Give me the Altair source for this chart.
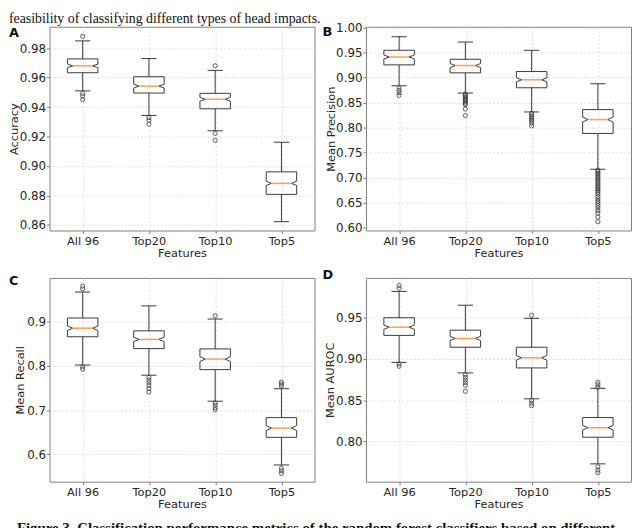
import altair as alt
import pandas as pd

CATS = ["All 96", "Top20", "Top10", "Top5"]
POS = [1, 2, 3, 4]

# Panel A: Accuracy
acc_q1 = [0.9633, 0.9495, 0.9388, 0.8807]
acc_med = [0.9680, 0.9542, 0.9453, 0.8882]
acc_q3 = [0.9727, 0.9606, 0.9493, 0.8960]
acc_lo = [0.9510, 0.9343, 0.9239, 0.8622]
acc_hi = [0.9849, 0.9729, 0.9649, 0.9161]
acc_notch = [0.0012, 0.0013, 0.0013, 0.0015]
acc_out_pos = [1, 1, 1, 1, 2, 2, 2, 3, 3, 3]
acc_out_val = [0.9880, 0.9493, 0.9475, 0.9450, 0.9328, 0.9310, 0.9283, 0.9680, 0.9221, 0.9174]

# Panel B: Mean Precision
prec_q1 = [0.9253, 0.9094, 0.8796, 0.7884]
prec_med = [0.9411, 0.9240, 0.8955, 0.8161]
prec_q3 = [0.9544, 0.9365, 0.9120, 0.8360]
prec_lo = [0.8836, 0.8690, 0.8313, 0.7169]
prec_hi = [0.9815, 0.9709, 0.9544, 0.8876]
prec_notch = [0.0040, 0.0040, 0.0040, 0.0050]
prec_out_pos = ([1] * 4 + [2] * 11 + [3] * 8 + [4] * 26)
prec_out_val = [0.8790, 0.8743, 0.8697, 0.8644,
                0.8671, 0.8644, 0.8618, 0.8591, 0.8565, 0.8538, 0.8512, 0.8485, 0.8459, 0.8373, 0.8241,
                0.8287, 0.8254, 0.8221, 0.8188, 0.8155, 0.8122, 0.8089, 0.8036,
                0.7150, 0.7124, 0.7091, 0.7065, 0.7032, 0.7005, 0.6972, 0.6939, 0.6906, 0.6873,
                0.6840, 0.6807, 0.6774, 0.6741, 0.6708, 0.6675, 0.6622, 0.6576, 0.6530, 0.6490,
                0.6444, 0.6398, 0.6345, 0.6292, 0.6213, 0.6120]

# Panel C: Mean Recall
rec_q1 = [0.8659, 0.8391, 0.7916, 0.6387]
rec_med = [0.8852, 0.8599, 0.8154, 0.6595]
rec_q3 = [0.9082, 0.8792, 0.8384, 0.6832]
rec_lo = [0.8020, 0.7790, 0.7203, 0.5763]
rec_hi = [0.9668, 0.9356, 0.9059, 0.7486]
rec_notch = [0.0050, 0.0050, 0.0055, 0.0055]
rec_out_pos = [1, 1, 1, 1, 2, 2, 2, 2, 2, 2, 3, 3, 3, 3, 3, 4, 4, 4, 4, 4, 4]
rec_out_val = [0.9802, 0.9742, 0.7976, 0.7924,
               0.7738, 0.7679, 0.7619, 0.7560, 0.7486, 0.7411,
               0.9134, 0.7166, 0.7114, 0.7055, 0.7010,
               0.7634, 0.7589, 0.7545, 0.5689, 0.5630, 0.5570]

# Panel D: Mean AUROC
auc_q1 = [0.9282, 0.9139, 0.8889, 0.8052]
auc_med = [0.9381, 0.9246, 0.9012, 0.8167]
auc_q3 = [0.9496, 0.9345, 0.9139, 0.8290]
auc_lo = [0.8956, 0.8829, 0.8516, 0.7730]
auc_hi = [0.9813, 0.9647, 0.9488, 0.8643]
auc_notch = [0.0025, 0.0025, 0.0028, 0.0028]
auc_out_pos = [1, 1, 1, 1, 2, 2, 2, 2, 2, 2, 3, 3, 3, 3, 4, 4, 4, 4, 4, 4]
auc_out_val = [0.9885, 0.9853, 0.8937, 0.8909,
               0.8806, 0.8774, 0.8742, 0.8710, 0.8679, 0.8607,
               0.9524, 0.8496, 0.8464, 0.8433,
               0.8714, 0.8686, 0.8655, 0.7694, 0.7655, 0.7623]

TOP_TEXT = "feasibility of classifying different types of head impacts."
BOTTOM_TEXT = ("Figure 3. Classification performance metrics of the random forest "
               "classifiers based on different")

W, H = 268, 206
BOX_HALF = 0.23
WAIST = 0.15
CAP_HALF = 0.115
LINE = "#3a3a3a"
MED = "#fca55d"
FONT = "DejaVu Sans"

label_expr = "['All 96','Top20','Top10','Top5'][datum.value - 1]"


def panel(q1, med, q3, lo, hi, notch, out_pos, out_val, domain, ticks, fmt,
          ytitle, title_x, annotations):
    poly, whisk, caps, meds = [], [], [], []
    for i, p in enumerate(POS):
        verts = [(-BOX_HALF, q1[i]), (BOX_HALF, q1[i]),
                 (BOX_HALF, med[i] - notch[i]), (WAIST, med[i]),
                 (BOX_HALF, med[i] + notch[i]), (BOX_HALF, q3[i]),
                 (-BOX_HALF, q3[i]), (-BOX_HALF, med[i] + notch[i]),
                 (-WAIST, med[i]), (-BOX_HALF, med[i] - notch[i]),
                 (-BOX_HALF, q1[i])]
        for k, (dx, v) in enumerate(verts):
            poly.append({"box": CATS[i], "k": k, "x": p + dx, "y": v})
        whisk.append({"x": p, "y": q1[i], "y2": lo[i]})
        whisk.append({"x": p, "y": q3[i], "y2": hi[i]})
        caps.append({"x": p - CAP_HALF, "x2": p + CAP_HALF, "y": lo[i]})
        caps.append({"x": p - CAP_HALF, "x2": p + CAP_HALF, "y": hi[i]})
        meds.append({"x": p - WAIST, "x2": p + WAIST, "y": med[i]})
    outs = pd.DataFrame({"x": out_pos, "y": out_val})

    xs = alt.Scale(domain=[0.5, 4.5], nice=False, zero=False)
    ys = alt.Scale(domain=domain, nice=False, zero=False)
    xaxis = alt.Axis(values=POS, labelExpr=label_expr, title="Features",
                     grid=True, labelFontSize=11.5, titleFontSize=11.5,
                     labelPadding=2, titlePadding=1, labelFlush=False)
    yaxis = alt.Axis(values=ticks, format=fmt, title=ytitle, grid=True,
                     labelFontSize=12, titleFontSize=11.5, labelPadding=1,
                     titleX=title_x, titleY=H / 2, titleAngle=-90,
                     titleAlign="center", titleBaseline="middle")
    X = alt.X("x:Q", scale=xs, axis=xaxis)
    Y = alt.Y("y:Q", scale=ys, axis=yaxis)

    whisk_l = alt.Chart(pd.DataFrame(whisk)).mark_rule(
        color=LINE, strokeWidth=1).encode(x=X, y=Y, y2="y2:Q")
    cap_l = alt.Chart(pd.DataFrame(caps)).mark_rule(
        color=LINE, strokeWidth=1).encode(x=X, x2="x2:Q", y=Y)
    box_l = alt.Chart(pd.DataFrame(poly)).mark_line(
        color=LINE, strokeWidth=1).encode(x=X, y=Y, order="k:Q", detail="box:N")
    med_l = alt.Chart(pd.DataFrame(meds)).mark_rule(
        color=MED, strokeWidth=1.6).encode(x=X, x2="x2:Q", y=Y)
    out_l = alt.Chart(outs).mark_point(
        shape="circle", filled=False, size=18, strokeWidth=0.8,
        color=LINE, opacity=1).encode(x=X, y=Y)

    layers = [whisk_l, cap_l, box_l, med_l, out_l]
    for (txt, tx, ty, size, font, weight) in annotations:
        layers.append(
            alt.Chart(pd.DataFrame({"t": [txt]})).mark_text(
                align="left", baseline="top", fontSize=size, font=font,
                fontWeight=weight, color="#111111").encode(
                text="t:N", x=alt.value(tx), y=alt.value(ty)))
    return alt.layer(*layers).properties(width=W, height=H)


pA = panel(acc_q1, acc_med, acc_q3, acc_lo, acc_hi, acc_notch,
           acc_out_pos, acc_out_val, [0.8562, 0.9945],
           [0.86, 0.88, 0.90, 0.92, 0.94, 0.96, 0.98], ".2f", "Accuracy", -35,
           [("A", -41, 0, 13, FONT, "bold"),
            (TOP_TEXT, -41, -15, 14, "Liberation Serif", "normal")])
pB = panel(prec_q1, prec_med, prec_q3, prec_lo, prec_hi, prec_notch,
           prec_out_pos, prec_out_val, [0.5946, 1.0014],
           [0.60, 0.65, 0.70, 0.75, 0.80, 0.85, 0.90, 0.95, 1.00], ".2f",
           "Mean Precision", -35,
           [("B", -44, -1, 13, FONT, "bold")])
pC = panel(rec_q1, rec_med, rec_q3, rec_lo, rec_hi, rec_notch,
           rec_out_pos, rec_out_val, [0.5385, 0.9987],
           [0.6, 0.7, 0.8, 0.9], ".1f", "Mean Recall", -29,
           [("C", -41, -3, 13, FONT, "bold"),
            (BOTTOM_TEXT, -33, 246, 15, "Liberation Serif", "bold")])
pD = panel(auc_q1, auc_med, auc_q3, auc_lo, auc_hi, auc_notch,
           auc_out_pos, auc_out_val, [0.7515, 0.9976],
           [0.80, 0.85, 0.90, 0.95], ".2f", "Mean AUROC", -36,
           [("D", -44, -9, 13, FONT, "bold")])

chart = alt.concat(
    pA, pB, pC, pD, columns=2,
    spacing={"row": 48, "column": 52}, bounds="flush", padding=0,
).configure_axis(
    labelFont=FONT, titleFont=FONT, labelColor="#262626", titleColor="#262626",
    titleFontWeight="normal", tickColor="#777777", tickSize=3, domain=False,
    gridColor="#d6d6d6", gridDash=[2, 2], gridWidth=0.8,
).configure_view(stroke="#808080", strokeWidth=1)

chart.save("out.html", embed_options={"renderer": "svg", "actions": False})
